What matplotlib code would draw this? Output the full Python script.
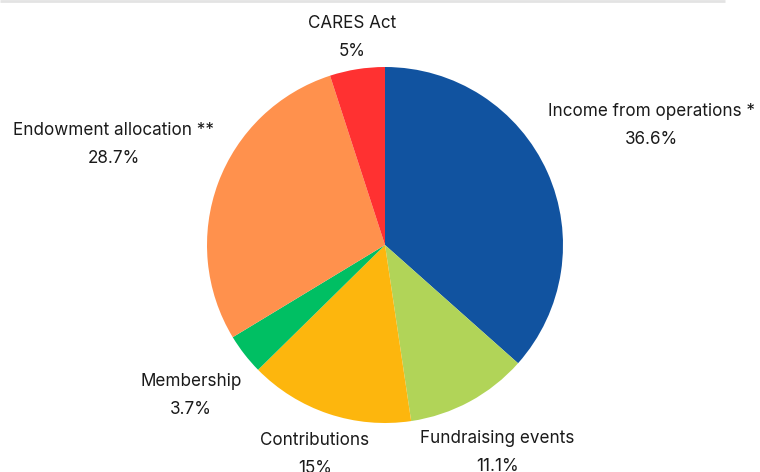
import matplotlib
matplotlib.use("Agg")
import matplotlib.pyplot as plt
import numpy as np

labels = ["Income from operations *", "Fundraising events", "Contributions",
          "Membership", "Endowment allocation **", "CARES Act"]
values = [36.6, 11.1, 15, 3.7, 28.7, 5]
pct_labels = ["36.6%", "11.1%", "15%", "3.7%", "28.7%", "5%"]
colors = ["#1153A0", "#B1D458", "#FDB60D", "#00BF63", "#FF914D", "#FF3131"]
label_dist = [1.64, 1.325, 1.24, 1.38, 1.625, 1.18]

W, H = 760, 472
fig = plt.figure(figsize=(W / 100, H / 100), dpi=100)
ax = fig.add_axes([0, 0, 1, 1])

cx, cy, r = 385, H - 245, 178
wedges, _ = ax.pie(values, colors=colors, startangle=90, counterclock=False,
                   center=(cx, cy), radius=r, frame=True,
                   wedgeprops=dict(linewidth=0))
ax.set_xlim(0, W)
ax.set_ylim(0, H)
ax.set_aspect("equal")
ax.axis("off")

for w, lab, pct, d in zip(wedges, labels, pct_labels, label_dist):
    ang = np.deg2rad((w.theta1 + w.theta2) / 2)
    x = cx + d * r * np.cos(ang)
    y = cy + d * r * np.sin(ang)
    ax.text(x, y, f"{lab}\n{pct}", ha="center", va="center", fontsize=12.3,
            family="Inter", color="#1a1a1a", linespacing=1.85)

ax.plot([0, 725], [H - 1, H - 1], color="#e3e3e3", lw=2, solid_capstyle="butt")

fig.savefig("out.png", dpi=100)
